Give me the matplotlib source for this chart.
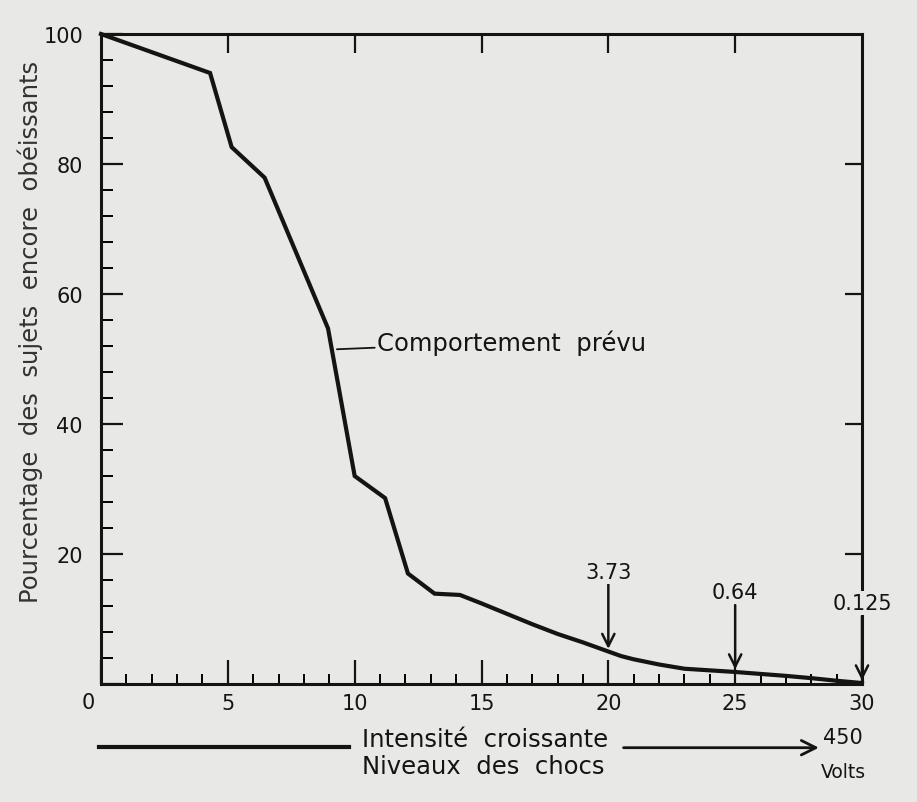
import numpy as np
import matplotlib
matplotlib.use('Agg')
import matplotlib.pyplot as plt

# shock level vs percentage of subjects still obeying (predicted)
level = [0, 4.3, 5.15, 6.45, 8.95, 10.0, 11.2, 12.1, 13.15, 14.15, 15, 16, 17, 18, 19, 20, 20.5, 21, 22, 23, 24, 25, 26, 27, 28, 29, 30]
pct = [100, 94, 82.6, 77.9, 54.7, 32.0, 28.6, 17.0, 13.9, 13.7, 12.4, 10.8, 9.2, 7.7, 6.4, 5.0, 4.3, 3.8, 3.0, 2.35, 2.1, 1.85, 1.55, 1.25, 0.9, 0.5, 0.15]

ann_labels = ['3.73', '0.64', '0.125']
ann_x = [20, 25, 30]

bg = '#e8e8e6'
ink = '#141414'
font = 'DejaVu Sans'
plt.rcParams['font.family'] = font

fig = plt.figure(figsize=(9.17, 8.03), dpi=100, facecolor=bg)
ax = fig.add_axes([101/917, 1-685/803, 761/917, 650/803])
ax.set_facecolor(bg)

ax.plot(level, pct, color=ink, lw=3.0, solid_joinstyle='miter', clip_on=False, zorder=3)

ax.set_xlim(0, 30)
ax.set_ylim(0, 100)
for s in ax.spines.values():
    s.set_linewidth(2.2)
    s.set_color(ink)

ax.set_xticks(range(0, 31, 5))
ax.set_xticklabels([''] + [str(v) for v in range(5, 31, 5)])
ax.set_xticks(range(0, 31), minor=True)
ax.set_yticks(range(0, 101, 20))
ax.set_yticklabels([''] + [str(v) for v in range(20, 101, 20)])
ax.set_yticks(range(0, 101, 4), minor=True)
ax.tick_params(axis='x', which='major', direction='in', length=17, width=1.6, pad=6.5,
               labelsize=15, colors=ink)
ax.tick_params(axis='x', which='minor', direction='in', length=7, width=1.4)
ax.tick_params(axis='y', which='major', direction='in', length=16, width=1.6, pad=13,
               labelsize=15, colors=ink)
ax.tick_params(axis='y', which='minor', direction='in', length=8.5, width=1.4)

top = ax.secondary_xaxis('top')
top.set_xticks(range(5, 30, 5))
top.set_xticklabels([])
top.tick_params(direction='in', length=14, width=1.6, colors=ink)
top.spines['top'].set_visible(False)
right = ax.secondary_yaxis('right')
right.set_yticks(range(20, 100, 20))
right.set_yticklabels([])
right.tick_params(direction='in', length=12, width=1.6, colors=ink)
right.spines['right'].set_visible(False)

# shared origin label
ax.text(-0.5, -2.8, '0', ha='center', va='center', fontsize=15, color=ink, clip_on=False)

fig.text(30/917, 1-332/803, 'Pourcentage  des  sujets  encore  obéissants', rotation=90,
         ha='center', va='center', fontsize=17.5, color='#333333')

# curve label with leader line
ax.annotate('Comportement  prévu', xy=(9.3, 51.5), xytext=(10.9, 52.6),
            fontsize=17.5, color=ink, va='center', ha='left',
            arrowprops=dict(arrowstyle='-', color=ink, lw=1.3, shrinkA=0, shrinkB=0))

# arrows to the curve with end values
for lab, xv in zip(ann_labels, ann_x):
    yline = np.interp(xv, level, pct)
    ax.annotate('', xy=(xv, yline + 0.4), xytext=(xv, yline + 10.3),
                arrowprops=dict(arrowstyle='->', color=ink, lw=1.8, mutation_scale=22,
                                shrinkA=0, shrinkB=0), annotation_clip=False)
    ax.text(xv, yline + 12.3, lab, ha='center', va='center', fontsize=15, color=ink,
            bbox=dict(boxstyle='square,pad=0.1', fc=bg, ec='none'), zorder=5, clip_on=False)

# intensity scale below the axis
ax.plot([-0.08, 9.78], [-9.7, -9.7], color=ink, lw=3, clip_on=False)
ax.text(10.29, -8.4, 'Intensité  croissante', ha='left', va='center', fontsize=17.5, color=ink, clip_on=False)
ax.text(10.29, -12.6, 'Niveaux  des  chocs', ha='left', va='center', fontsize=17.5, color=ink, clip_on=False)
ax.annotate('', xy=(28.3, -9.8), xytext=(20.6, -9.8),
            arrowprops=dict(arrowstyle='->', color=ink, lw=2, mutation_scale=26, shrinkA=0, shrinkB=0),
            annotation_clip=False)
ax.text(29.25, -8.2, '450', ha='center', va='center', fontsize=15, color=ink, clip_on=False)
ax.text(29.25, -13.5, 'Volts', ha='center', va='center', fontsize=13.5, color=ink, clip_on=False)

fig.savefig('out.png', dpi=100, facecolor=bg)
